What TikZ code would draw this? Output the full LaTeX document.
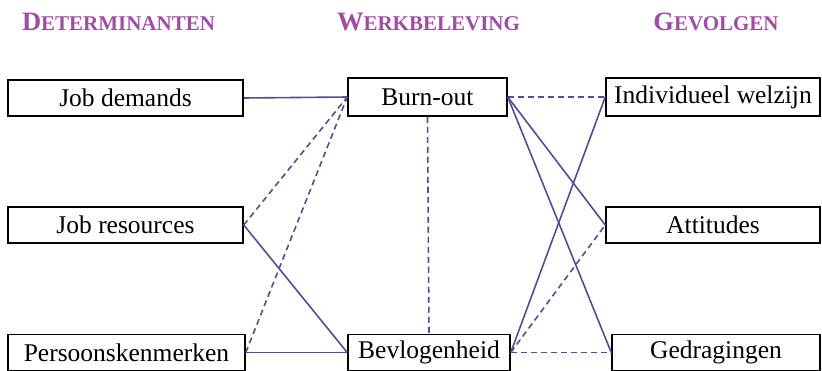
\documentclass[tikz,border=0pt]{standalone}
\usepackage{fontspec}
\setmainfont{Liberation Serif}
\definecolor{hdrpurple}{RGB}{158,78,162}
\definecolor{linkblue}{RGB}{80,80,145}
\newcommand\hdrtext[2]{{\fontsize{26.5}{26}\selectfont #1}{\fontsize{21}{21}\selectfont #2}}
\begin{document}
\begin{tikzpicture}[x=1pt,y=-1pt,
  box/.style={draw=black,line width=1.5pt,fill=white,inner sep=0pt,
    font=\fontsize{25.5}{30}\selectfont},
  hdr/.style={anchor=base,text=hdrpurple,font=\bfseries,inner sep=0pt},
  link/.style={draw=linkblue,line width=1.6pt},
  dlink/.style={link,dash pattern=on 6pt off 4pt}]
\useasboundingbox (0,0) rectangle (822,370);
\node[hdr] (h1) at (118.5,30) {\hdrtext{D}{ETERMINANTEN}};
\node[hdr] (h2) at (428.5,30) {\hdrtext{W}{ERKBELEVING}};
\node[hdr] (h3) at (716,30) {\hdrtext{G}{EVOLGEN}};
\node[box,minimum width=235pt,minimum height=36pt] (jd) at (125.5,98) {Job demands};
\node[box,minimum width=235pt,minimum height=36pt] (jr) at (125.5,225) {Job resources};
\node[box,minimum width=237pt,minimum height=36pt] (pk) at (126.5,352.5) {Persoonskenmerken};
\node[box,minimum width=159pt,minimum height=38pt] (bo) at (427.5,97) {Burn-out};
\node[box,minimum width=162pt,minimum height=36pt] (bv) at (429,352.5) {Bevlogenheid};
\node[box,minimum width=214pt,minimum height=38pt] (iw) at (713,97) {Individueel welzijn};
\node[box,minimum width=214pt,minimum height=36pt] (at) at (713,225) {Attitudes};
\node[box,minimum width=208pt,minimum height=36pt] (gd) at (716,352.5) {Gedragingen};
\draw[link] (jd.east) -- (bo.west);
\draw[dlink] (jr.east) -- (bo.west);
\draw[link] (jr.east) -- (bv.west);
\draw[dlink] (pk.east) -- (bo.west);
\draw[link] (pk.east) -- (bv.west);
\draw[dlink] (bo.south) -- (bv.north);
\draw[dlink] (bo.east) -- (iw.west);
\draw[link] (bo.east) -- (at.west);
\draw[link] (bo.east) -- (gd.west);
\draw[link] (bv.east) -- (iw.west);
\draw[dlink] (bv.east) -- (at.west);
\draw[dlink] (bv.east) -- (gd.west);
\end{tikzpicture}
\end{document}
